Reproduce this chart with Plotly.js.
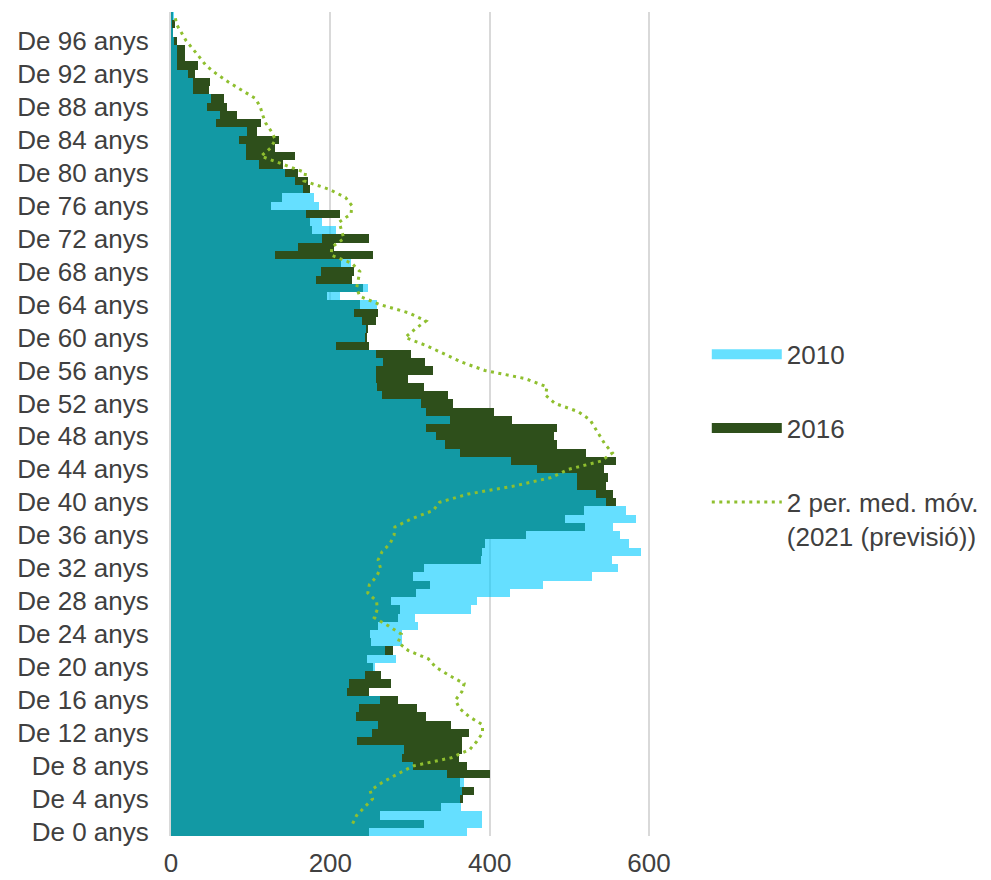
<!DOCTYPE html>
<html>
<head>
<meta charset="utf-8">
<script src="https://cdn.plot.ly/plotly-3.0.1.min.js"></script>
<style>
  html, body { margin: 0; padding: 0; background: #ffffff; }
  #chart { width: 991px; height: 880px; }
</style>
</head>
<body>
<div id="chart"></div>
<script>
// Ages 0..99 (bottom to top)
const ages = [];
for (let a = 0; a <= 99; a++) ages.push(a);
const categories = ages.map(a => 'De ' + a + ' anys');

// 2010 population by age (index = age)
const v2010 = [
  372, 390, 390, 364, 363, 365, 368, 347, 304, 290,
  292, 233, 252, 260, 232, 236, 262, 221, 224, 244,
  256, 283, 269, 290, 290, 310, 306, 376, 384, 426,
  467, 529, 561, 553, 590, 575, 564, 555, 584, 571,
  546, 534, 509, 509, 459, 427, 363, 344, 332, 320,
  350, 320, 314, 265, 259, 257, 257, 266, 257, 207,
  244, 245, 240, 230, 258, 212, 247, 182, 188, 226,
  131, 160, 190, 207, 190, 170, 186, 180, 166, 156,
  143, 111, 94, 94, 85, 96, 57, 62, 45, 50,
  27, 28, 21, 8, 8, 8, 4, 3, 1, 4
];

// 2016 population by age (index = age)
const v2016 = [
  249, 317, 262, 339, 366, 380, 363, 400, 372, 361,
  365, 365, 374, 352, 320, 309, 285, 249, 276, 264,
  253, 246, 279, 251, 250, 260, 285, 287, 276, 308,
  325, 304, 317, 389, 390, 394, 445, 520, 495, 518,
  559, 555, 546, 549, 543, 559, 521, 485, 481, 485,
  428, 405, 354, 348, 317, 298, 329, 319, 301, 248,
  246, 247, 257, 260, 237, 196, 241, 227, 230, 213,
  253, 205, 248, 177, 175, 212, 126, 139, 175, 172,
  159, 141, 156, 131, 136, 108, 113, 83, 70, 66,
  48, 49, 30, 34, 17, 18, 8, 3, 5, 2
];

// 2-period moving average of the 2021 forecast (index = age, starts at age 1)
const vMA = [
  null, 228, 233, 243, 253, 250, 265, 284, 304, 352,
  375, 384, 391, 391, 374, 362, 357, 365, 368, 349,
  332, 323, 298, 285, 289, 273, 255, 259, 258, 247,
  249, 258, 263, 260, 265, 275, 280, 281, 302, 329,
  337, 373, 432, 477, 499, 540, 554, 545, 539, 532,
  526, 511, 482, 470, 472, 445, 394, 365, 342, 321,
  294, 306, 320, 298, 262, 237, 233, 235, 237, 227,
  201, 202, 217, 214, 211, 226, 227, 219, 198, 167,
  169, 141, 113, 125, 131, 126, 119, 115, 112, 106,
  89, 72, 57, 44, 36, 28, 19, 13, 7, 5
];

const seriesNames = ['2010', '2016', '2 per. med. móv.<br>(2021 (previsió))'];
const xTicks = [0, 200, 400, 600];

const cCyan = 'rgb(0,203,255)';
const cGreen = '#2e4f1b';
const cLine = '#8fbf2f';
const fontFam = '"Liberation Sans", Arial, sans-serif';

const tickCats = categories.filter((c, i) => i % 4 === 0);

const traces = [
  { type: 'bar', orientation: 'h', x: v2016, y: categories, name: seriesNames[1],
    marker: { color: cGreen, line: { width: 0 } }, width: 1, showlegend: false, hoverinfo: 'x+y' },
  { type: 'bar', orientation: 'h', x: v2010, y: categories, name: seriesNames[0],
    marker: { color: cCyan, line: { width: 0 } }, opacity: 0.6, width: 1, showlegend: false, hoverinfo: 'x+y' },
  { type: 'scatter', mode: 'lines', x: vMA, y: categories, name: seriesNames[2],
    line: { color: cLine, width: 3, dash: '3px,4.5px' }, showlegend: false, connectgaps: false },
  // legend entries
  { type: 'scatter', mode: 'lines', x: [null], y: [null], name: seriesNames[0], legendgroup: 'a', legendrank: 1,
    line: { color: 'rgba(0,203,255,0.6)', width: 16 } },
  { type: 'scatter', mode: 'lines', x: [null], y: [null], name: seriesNames[1], legendgroup: 'b', legendrank: 2,
    line: { color: cGreen, width: 16 } },
  { type: 'scatter', mode: 'lines', x: [null], y: [null], name: seriesNames[2], legendgroup: 'c', legendrank: 3,
    line: { color: cLine, width: 3, dash: '3px,4.5px' } }
];

const layout = {
  width: 991, height: 880,
  paper_bgcolor: '#ffffff', plot_bgcolor: '#ffffff',
  font: { family: fontFam, size: 26, color: '#404040' },
  margin: { l: 171, r: 338, t: 12, b: 44, autoexpand: false },
  barmode: 'overlay', bargap: 0,
  xaxis: {
    range: [0, 605], tickmode: 'array', tickvals: xTicks,
    showgrid: true, gridcolor: '#d9d9d9', gridwidth: 2,
    zeroline: false, showline: false,
    ticks: 'outside', ticklen: 4, tickcolor: 'rgba(0,0,0,0)',
    tickfont: { size: 26, color: '#404040' }
  },
  yaxis: {
    type: 'category', categoryorder: 'array', categoryarray: categories,
    range: [-0.5, 99.5],
    tickmode: 'array', tickvals: tickCats, ticktext: tickCats,
    showgrid: false, zeroline: false,
    showline: true, linecolor: '#d9d9d9', linewidth: 2,
    ticks: 'outside', ticklen: 15, tickcolor: 'rgba(0,0,0,0)',
    tickfont: { size: 26, color: '#404040' }
  },
  legend: {
    x: 1.1116, xanchor: 'left', y: 0.613, yanchor: 'top',
    traceorder: 'grouped', tracegroupgap: 37, valign: 'top',
    itemwidth: 70, itemclick: false,
    font: { size: 26, color: '#404040' },
    bgcolor: 'rgba(0,0,0,0)'
  },
  showlegend: true
};

Plotly.newPlot('chart', traces, layout, { displayModeBar: false, staticPlot: true });
</script>
</body>
</html>
